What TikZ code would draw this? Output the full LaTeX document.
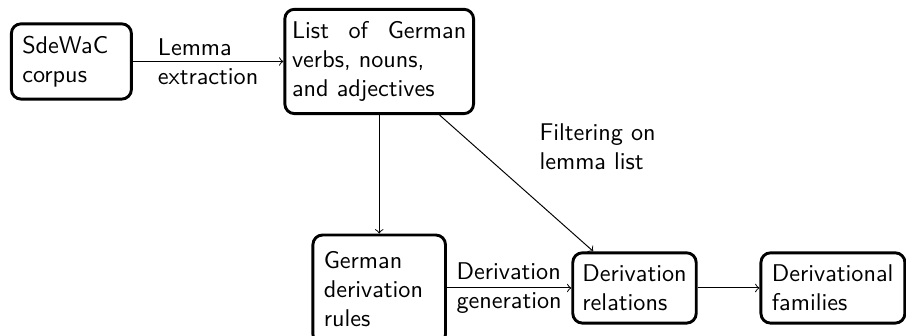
\documentclass[tikz,border=0pt]{standalone}
\usepackage{tikz}
\usetikzlibrary{positioning}
\newcommand*{\picwd }{374.4pt}
\newcommand*{\picht }{138.8pt}
\newcommand*{\rowone}{-25.4pt}
\newcommand*{\rowtwo}{-119pt}
\newcommand*{\colone}{29.5pt}
\newcommand*{\coltwo}{156.7pt}
\newcommand*{\colthr}{262.2pt}
\newcommand*{\colfou}{344.2pt}

\begin{document}
\begin{tikzpicture}[font=\sffamily,
        stage/.style={draw, very thick, rounded corners, align=left, inner xsep=4.5pt, inner ysep=5pt},
        flow/.style={->}]
    \useasboundingbox (0,0) rectangle (\picwd,-\picht);
    % top row
    \node [stage, text width=40.6pt] (corpus) at (\colone,\rowone) {SdeWaC\\corpus};
    \node [stage, text width=72pt, inner xsep=3pt] (lemmas) at (\coltwo,\rowone) {List\hfill of\hfill German\\verbs, nouns,\\and adjectives};
    % bottom row
    \node [stage, text width=45.8pt, inner ysep=6.9pt] (rules) at (\coltwo,-119.6pt) {German\\derivation\\rules};
    \node [stage, text width=43pt, inner xsep=4pt] (relations) at (\colthr,\rowtwo) {Derivation\\relations};
    \node [stage, text width=50.5pt] (families) at (\colfou,\rowtwo) {Derivational\\families};
    % connectors
    \draw [flow] (corpus) -- node [align=left] {Lemma\\extraction} (lemmas);
    \draw [flow] (lemmas) -- (rules);
    \draw [flow] (lemmas) -- node [above right=2pt and 6pt, align=left] {Filtering on\\lemma list} (relations);
    \draw [flow] (rules.east |- relations) -- node [align=left] {Derivation\\generation} (relations);
    \draw [flow] (relations) -- (families);
\end{tikzpicture}
\end{document}
